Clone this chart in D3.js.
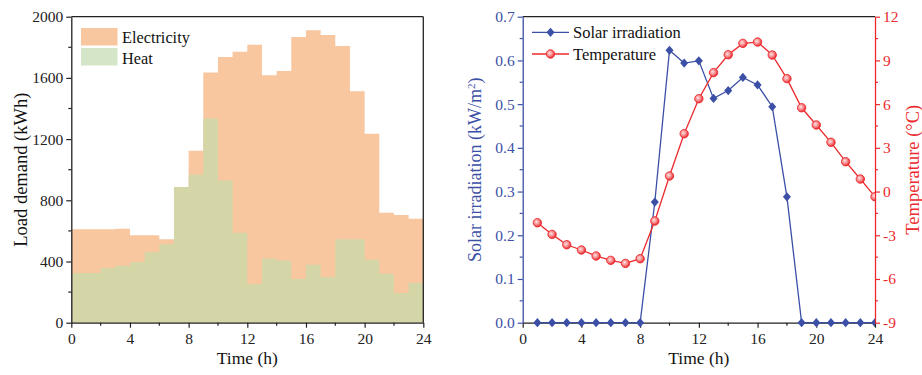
<!DOCTYPE html>
<html><head><meta charset="utf-8">
<script src="https://cdn.jsdelivr.net/npm/d3@7"></script>
<style>
body{margin:0;background:#fff;}
svg{display:block;}
svg text{font-family:"Liberation Serif","Times New Roman",serif !important;}
</style></head>
<body><svg id="c" width="922" height="375"></svg>
<script>
// ---- data ----
const hours = d3.range(0, 24);
const electricity = [610,610,610,614,571,571,545,887,1124,1636,1736,1771,1817,1617,1645,1867,1911,1880,1808,1512,1235,719,704,680];
const heat = [325,325,357,372,397,462,512,887,967,1335,930,588,253,420,407,285,379,298,545,545,412,320,194,259];
const hoursR = d3.range(1, 25);
const solar = [0,0,0,0,0,0,0,0,0.276,0.623,0.594,0.599,0.513,0.531,0.561,0.544,0.494,0.288,0,0,0,0,0,0];
const temperature = [-2.14,-2.94,-3.65,-4.01,-4.42,-4.72,-4.93,-4.61,-2.02,1.07,3.97,6.37,8.16,9.39,10.17,10.26,9.37,7.75,5.75,4.57,3.38,2.05,0.86,-0.35];
const xTicks = [0,4,8,12,16,20,24];
const loadTicks = [0,400,800,1200,1600,2000];
const solarTicks = [0,0.1,0.2,0.3,0.4,0.5,0.6,0.7];
const tempTicks = [-9,-6,-3,0,3,6,9,12];

const BLUE = "#3b4fa6", RED = "#ec2a2e";
const ORANGE = "#f8c7a0", OLIVE = "#d4d6a8", LGREEN = "#d4e6c7";
const FONT = '"Liberation Serif", "Times New Roman", serif';

const svg = d3.select("#c");
const pTop = 16.7, pBot = 322.7;
const plain = d => String(d);

// ---------- LEFT CHART ----------
const L = {x0: 71.3, x1: 423.3};
const xL = d3.scaleLinear().domain([0,24]).range([L.x0, L.x1]);
const yL = d3.scaleLinear().domain([0,2000]).range([pBot, pTop]);
const stepData = arr => hours.map((h,i)=>({h, v: arr[i]})).concat([{h:24, v: arr[arr.length-1]}]);
const areaL = d3.area().curve(d3.curveStepAfter).x(d=>xL(d.h)).y0(yL(0)).y1(d=>yL(d.v));
svg.append("path").attr("d", areaL(stepData(electricity))).attr("fill", ORANGE);
svg.append("path").attr("d", areaL(stepData(heat))).attr("fill", OLIVE);

function styleAxis(g, color, fs){
  g.attr("font-family", FONT).attr("font-size", fs);
  g.selectAll("path.domain").attr("stroke", color).attr("stroke-width", 1.3);
  g.selectAll(".tick line").attr("stroke", color).attr("stroke-width", 1.2);
  g.selectAll(".tick text").attr("fill", color);
}
function minor(scale, orient, vals, pos, color){
  const g = svg.append("g");
  vals.forEach(v=>{
    const p = scale(v);
    if(orient==="left") g.append("line").attr("x1",pos-3).attr("x2",pos).attr("y1",p).attr("y2",p);
    if(orient==="right") g.append("line").attr("x1",pos).attr("x2",pos+3).attr("y1",p).attr("y2",p);
    if(orient==="bottom") g.append("line").attr("x1",p).attr("x2",p).attr("y1",pos).attr("y2",pos+3);
  });
  g.selectAll("line").attr("stroke", color).attr("stroke-width", 1.2);
}

svg.append("line").attr("x1",L.x0).attr("x2",L.x1).attr("y1",pTop).attr("y2",pTop).attr("stroke","#222").attr("stroke-width",1.3);
svg.append("line").attr("x1",L.x1).attr("x2",L.x1).attr("y1",pTop).attr("y2",pBot).attr("stroke","#222").attr("stroke-width",1.3);

const gxL = svg.append("g").attr("transform",`translate(0,${pBot})`)
  .call(d3.axisBottom(xL).tickValues(xTicks).tickFormat(plain).tickSize(5).tickPadding(5).tickSizeOuter(0));
styleAxis(gxL, "#222", 15.5);
minor(xL, "bottom", [2,6,10,14,18,22], pBot, "#222");
const gyL = svg.append("g").attr("transform",`translate(${L.x0},0)`)
  .call(d3.axisLeft(yL).tickValues(loadTicks).tickFormat(plain).tickSize(5).tickPadding(3).tickSizeOuter(0));
styleAxis(gyL, "#222", 15.5);
minor(yL, "left", [200,600,1000,1400,1800], L.x0, "#222");

svg.append("text").attr("x", (L.x0+L.x1)/2).attr("y", 364).attr("text-anchor","middle")
  .style("font-size","17.5px").attr("fill","#111").text("Time (h)");
svg.append("text").attr("transform",`translate(27,${(pTop+pBot)/2}) rotate(-90)`).attr("text-anchor","middle")
  .style("font-size","18.5px").attr("fill","#111").text("Load demand (kWh)");

const legL = [{name:"Electricity", c: ORANGE},{name:"Heat", c: LGREEN}];
legL.forEach((d,i)=>{
  svg.append("rect").attr("x",81).attr("y",28+i*20).attr("width",36.5).attr("height",17.5).attr("fill",d.c);
  svg.append("text").attr("x",122).attr("y",43+i*20.5).style("font-size","16.3px").attr("fill","#111").text(d.name);
});

// ---------- RIGHT CHART ----------
const R = {x0: 522.7, x1: 875};
const xR = d3.scaleLinear().domain([0,24]).range([R.x0, R.x1]);
const yS = d3.scaleLinear().domain([0,0.7]).range([pBot, pTop]);
const yT = d3.scaleLinear().domain([-9,12]).range([pBot, pTop]);

const defs = svg.append("defs");
defs.append("clipPath").attr("id","clipR").append("rect")
  .attr("x",R.x0).attr("y",pTop-6).attr("width",R.x1-R.x0).attr("height",pBot-pTop+12);
const grad = defs.append("radialGradient").attr("id","ball").attr("cx","0.4").attr("cy","0.4").attr("r","0.6");
grad.append("stop").attr("offset","0").attr("stop-color","#ffe3e3");
grad.append("stop").attr("offset","0.55").attr("stop-color","#f7888a");
grad.append("stop").attr("offset","1").attr("stop-color","#e8282d");

svg.append("line").attr("x1",R.x0).attr("x2",R.x1).attr("y1",pTop).attr("y2",pTop).attr("stroke","#222").attr("stroke-width",1.3);

const gxR = svg.append("g").attr("transform",`translate(0,${pBot})`)
  .call(d3.axisBottom(xR).tickValues(xTicks).tickFormat(plain).tickSize(5).tickPadding(5).tickSizeOuter(0));
styleAxis(gxR, "#222", 15.5);
minor(xR, "bottom", [2,6,10,14,18,22], pBot, "#222");

const gyS = svg.append("g").attr("transform",`translate(${R.x0},0)`)
  .call(d3.axisLeft(yS).tickValues(solarTicks).tickFormat(d => d.toFixed(1)).tickSize(5).tickPadding(3).tickSizeOuter(0));
styleAxis(gyS, BLUE, 15.5);
minor(yS, "left", [0.05,0.15,0.25,0.35,0.45,0.55,0.65], R.x0, BLUE);

const gyT = svg.append("g").attr("transform",`translate(${R.x1},0)`)
  .call(d3.axisRight(yT).tickValues(tempTicks).tickFormat(plain).tickSize(5).tickPadding(3).tickSizeOuter(0));
styleAxis(gyT, RED, 15.5);
minor(yT, "right", [-7.5,-4.5,-1.5,1.5,4.5,7.5,10.5], R.x1, RED);

const plotR = svg.append("g").attr("clip-path","url(#clipR)");
const solarPts = hoursR.map((h,i)=>({h, v: solar[i]}));
const tempPts = hoursR.map((h,i)=>({h, v: temperature[i]}));
plotR.append("path").attr("d", d3.line().x(d=>xR(d.h)).y(d=>yS(d.v))(solarPts))
  .attr("fill","none").attr("stroke",BLUE).attr("stroke-width",1.3);
const diamond = "M0,-4.6L4,0L0,4.6L-4,0Z";
plotR.selectAll(".dia").data(solarPts).join("path").attr("class","dia")
  .attr("transform",d=>`translate(${xR(d.h)},${yS(d.v)})`).attr("d",diamond).attr("fill",BLUE);
plotR.append("path").attr("d", d3.line().x(d=>xR(d.h)).y(d=>yT(d.v))(tempPts))
  .attr("fill","none").attr("stroke",RED).attr("stroke-width",1.3);
plotR.selectAll(".ball").data(tempPts).join("circle").attr("class","ball")
  .attr("cx",d=>xR(d.h)).attr("cy",d=>yT(d.v)).attr("r",4.2)
  .attr("fill","url(#ball)").attr("stroke",RED).attr("stroke-width",0.9);

svg.append("text").attr("x", (R.x0+R.x1)/2).attr("y", 364).attr("text-anchor","middle")
  .style("font-size","17.5px").attr("fill","#111").text("Time (h)");
const ts = svg.append("text").attr("transform",`translate(481,${(pTop+pBot)/2}) rotate(-90)`).attr("text-anchor","middle")
  .style("font-size","18px").attr("fill",BLUE);
ts.append("tspan").text("Solar irradiation (kW/m");
ts.append("tspan").attr("dy",-6).style("font-size","11px").text("2");
ts.append("tspan").attr("dy",6).text(")");
svg.append("text").attr("transform",`translate(919,${(pTop+pBot)/2}) rotate(-90)`).attr("text-anchor","middle")
  .style("font-size","18.5px").attr("fill",RED).text("Temperature (\u00B0C)");

const legR = [{name:"Solar irradiation", c: BLUE, t:"d"},{name:"Temperature", c: RED, t:"c"}];
legR.forEach((d,i)=>{
  const y = 32.3 + i*21.7;
  svg.append("line").attr("x1",532).attr("x2",569).attr("y1",y).attr("y2",y).attr("stroke",d.c).attr("stroke-width",1.3);
  if(d.t==="d") svg.append("path").attr("transform",`translate(550.5,${y})`).attr("d",diamond).attr("fill",d.c);
  else svg.append("circle").attr("cx",550.5).attr("cy",y).attr("r",4.2).attr("fill","url(#ball)").attr("stroke",RED).attr("stroke-width",0.9);
  svg.append("text").attr("x",573).attr("y",y+5.5).style("font-size","16.5px").attr("fill","#111").text(d.name);
});
</script></body></html>
